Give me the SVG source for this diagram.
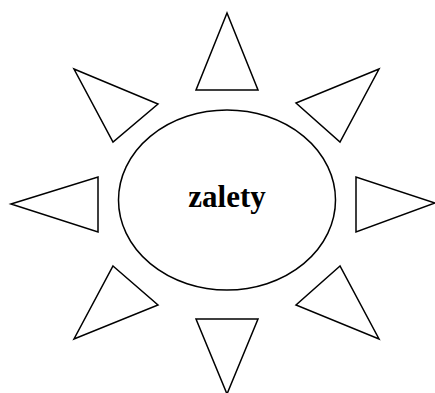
<svg xmlns="http://www.w3.org/2000/svg" width="435" height="393" viewBox="0 0 435 393">
<style>
.ray{fill:#fff;stroke:#000;stroke-width:1.5;stroke-linejoin:miter}
.core{fill:#fff;stroke:#000;stroke-width:1.5}
.lbl{font-family:"Liberation Serif","Times New Roman",serif;font-weight:bold;font-size:31px;fill:#000}
</style>
<rect width="435" height="393" fill="#fff"/>
<g id="rays">
<polygon id="ray-top" class="ray" points="227,13 196,90 258,90"/>
<polygon id="ray-upper-left" class="ray" points="74,69 158,104 113,142"/>
<polygon id="ray-upper-right" class="ray" points="379,69 296,103 340,142"/>
<polygon id="ray-left" class="ray" points="11,204 98,177 98,232"/>
<polygon id="ray-right" class="ray" points="356,177 356,232 435,203"/>
<polygon id="ray-lower-left" class="ray" points="113,266 158,305 74,339"/>
<polygon id="ray-lower-right" class="ray" points="340,266 296,305 379,339"/>
<polygon id="ray-bottom" class="ray" points="196,319 258,319 227,394"/>
</g>
<g id="center">
<ellipse class="core" cx="227" cy="200" rx="108.5" ry="90"/>
<text class="lbl" x="227" y="207" text-anchor="middle">zalety</text>
</g>
</svg>
